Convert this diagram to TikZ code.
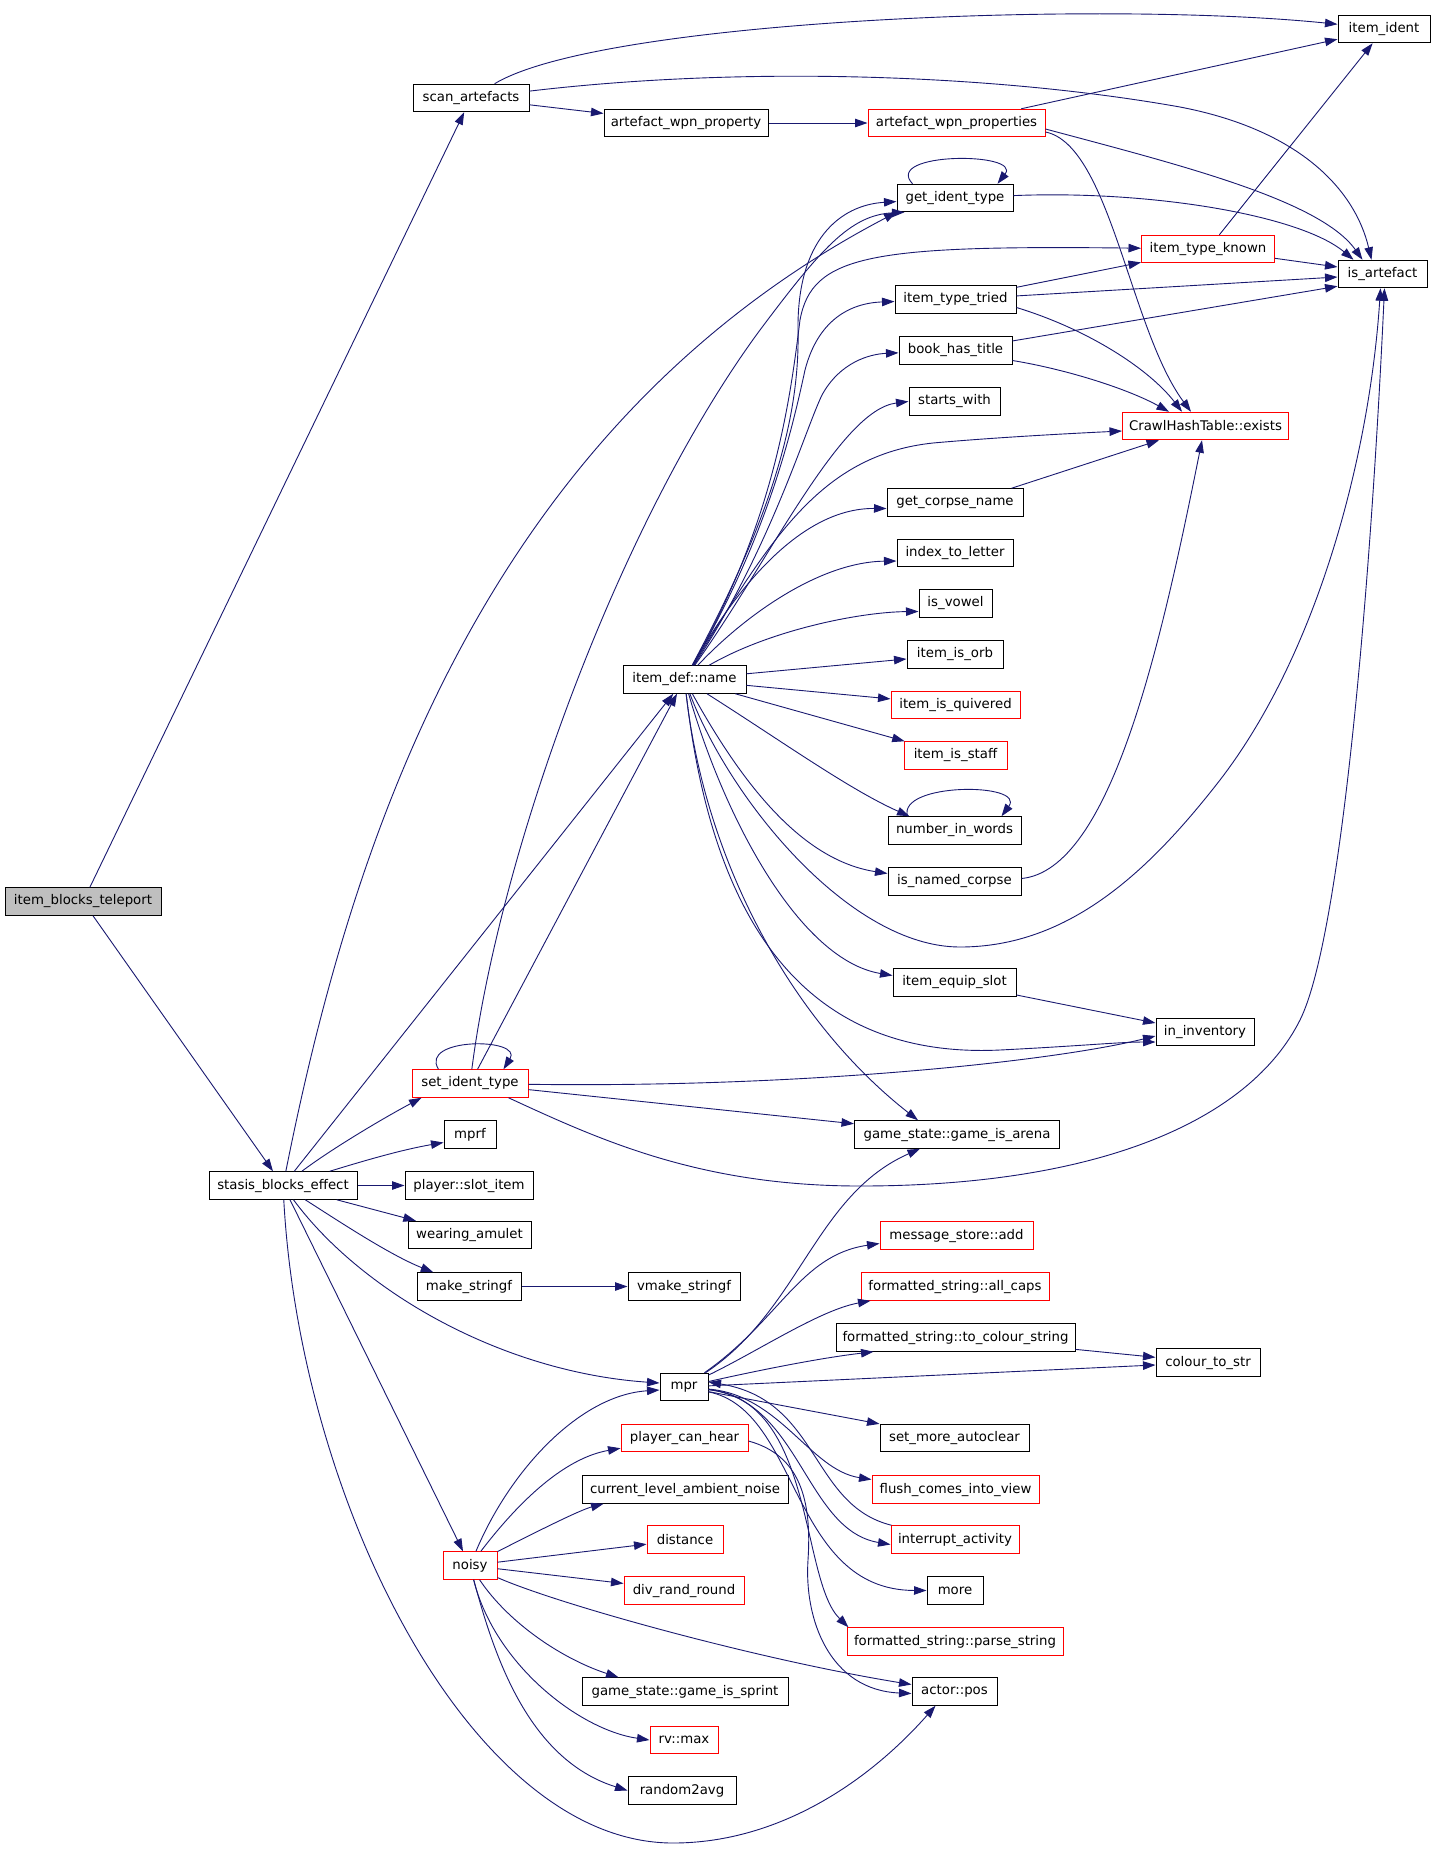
\documentclass[tikz,border=0pt]{standalone}
\usepackage{fontspec}
\setmainfont{DejaVu Sans}
\usetikzlibrary{arrows.meta,calc}
\definecolor{edgec}{HTML}{191970}
\definecolor{grayfill}{HTML}{BFBFBF}
\tikzset{
  box/.style={draw=black, line width=1pt, minimum height=27.5pt, inner sep=0pt,
    font=\fontsize{13.3pt}{16pt}\selectfont, text=black},
  rbox/.style={box, draw=red},
  conn/.style={draw=edgec, line width=0.9pt, -{Triangle[length=12.5pt,width=8.5pt]}},
}
\begin{document}
\begin{tikzpicture}[x=1pt,y=-1pt]
\fill[white] (0,0) rectangle (1432,1856);
\useasboundingbox (0,0) rectangle (1432,1856);
% nodes
\node[box,fill=grayfill,minimum width=156pt] (ibt) at (83,901.5) {item\_blocks\_teleport};
\node[box,minimum width=116pt] (scan) at (471,98) {scan\_artefacts};
\node[box,minimum width=164pt] (awp) at (686,123) {artefact\_wpn\_property};
\node[rbox,minimum width=177pt] (awps) at (956.5,123) {artefact\_wpn\_properties};
\node[box,minimum width=92pt] (iid) at (1384,29) {item\_ident};
\node[box,minimum width=89pt] (isa) at (1382.5,274) {is\_artefact};
\node[box,minimum width=116pt] (git) at (955,198) {get\_ident\_type};
\node[rbox,minimum width=133pt] (itk) at (1208,249) {item\_type\_known};
\node[box,minimum width=121pt] (itt) at (955.5,299.5) {item\_type\_tried};
\node[box,minimum width=113pt] (bht) at (955.5,350.5) {book\_has\_title};
\node[box,minimum width=91pt] (sw) at (954.5,401.5) {starts\_with};
\node[rbox,minimum width=166pt] (ex) at (1205.5,426) {CrawlHashTable::exists};
\node[box,minimum width=136pt] (gcn) at (955,502.5) {get\_corpse\_name};
\node[box,minimum width=116pt] (itl) at (955,553) {index\_to\_letter};
\node[box,minimum width=73pt] (iv) at (955.5,603.5) {is\_vowel};
\node[box,minimum width=96pt] (iio) at (955,654.5) {item\_is\_orb};
\node[rbox,minimum width=129pt] (iiq) at (955.5,705) {item\_is\_quivered};
\node[rbox,minimum width=103pt] (iis) at (955.5,755.5) {item\_is\_staff};
\node[box,minimum width=133pt] (niw) at (954.5,830.5) {number\_in\_words};
\node[box,minimum width=133pt] (inc) at (954.5,881.5) {is\_named\_corpse};
\node[box,minimum width=123pt] (idn) at (684.5,679.5) {item\_def::name};
\node[box,minimum width=123pt] (ies) at (954.5,982.5) {item\_equip\_slot};
\node[box,minimum width=98pt] (inv) at (1205,1032) {in\_inventory};
\node[rbox,minimum width=116pt] (sit) at (470,1083.5) {set\_ident\_type};
\node[box,minimum width=205pt] (gia) at (957,1134.5) {game\_state::game\_is\_arena};
\node[box,minimum width=52pt] (mprf) at (470,1134.5) {mprf};
\node[box,minimum width=148pt] (sbe) at (283,1185.5) {stasis\_blocks\_effect};
\node[box,minimum width=128pt] (psi) at (469,1185.5) {player::slot\_item};
\node[box,minimum width=123pt] (wa) at (469.5,1235) {wearing\_amulet};
\node[box,minimum width=104pt] (ms) at (469,1286.5) {make\_stringf};
\node[box,minimum width=112pt] (vms) at (684,1286.5) {vmake\_stringf};
\node[rbox,minimum width=153pt] (msa) at (956.5,1235.5) {message\_store::add};
\node[rbox,minimum width=188pt] (ac) at (955,1286.5) {formatted\_string::all\_caps};
\node[box,minimum width=239pt] (tcs) at (955.5,1337.5) {formatted\_string::to\_colour\_string};
\node[box,minimum width=104pt] (cts) at (1208,1362.5) {colour\_to\_str};
\node[box,minimum width=48pt] (mpr) at (684,1387) {mpr};
\node[box,minimum width=149pt] (sma) at (954.5,1438) {set\_more\_autoclear};
\node[rbox,minimum width=167pt] (fciv) at (955.5,1489.5) {flush\_comes\_into\_view};
\node[rbox,minimum width=127pt] (pch) at (684.5,1438) {player\_can\_hear};
\node[box,minimum width=206pt] (clan) at (685,1489.5) {current\_level\_ambient\_noise};
\node[rbox,minimum width=76pt] (dist) at (685,1539.5) {distance};
\node[rbox,minimum width=54pt] (noisy) at (470,1565.5) {noisy};
\node[rbox,minimum width=128pt] (ia) at (955,1539.5) {interrupt\_activity};
\node[rbox,minimum width=120pt] (drr) at (684,1590.5) {div\_rand\_round};
\node[box,minimum width=56pt] (more) at (955,1590.5) {more};
\node[rbox,minimum width=216pt] (ps) at (955,1641.5) {formatted\_string::parse\_string};
\node[box,minimum width=206pt] (gis) at (685,1691.5) {game\_state::game\_is\_sprint};
\node[box,minimum width=85pt] (ap) at (954.5,1691.5) {actor::pos};
\node[rbox,minimum width=68pt] (rvm) at (684,1740) {rv::max};
\node[box,minimum width=108pt] (r2a) at (682,1790.5) {random2avg};
% ibt
\draw[conn] (ibt) -- (scan);
\draw[conn] (ibt) -- (sbe);
% scan
\draw[conn] (scan) .. controls (600,20) and (1100,0) .. (iid);
\draw[conn] (scan) .. controls (750,65) and (1000,75) .. (1180,107) .. controls (1300,130) and (1355,190) .. ($(isa.north west)+(34,0)$);
\draw[conn] (scan) -- (awp);
\draw[conn] (awp) -- (awps);
\draw[conn] (awps) -- (iid);
\draw[conn] ($(awps.east)+(0,6)$) .. controls (1180,165) and (1320,200) .. ($(isa.north west)+(25,0)$);
\draw[conn] ($(awps.east)+(0,9)$) .. controls (1110,145) and (1130,330) .. ($(ex.north west)+(69,0)$);
% git
\draw[conn] ($(git.north west)+(16,0)$) .. controls +(-30,-32) and +(25,-32) .. ($(git.north east)+(-16,0)$);
\draw[conn] (git) .. controls (1150,190) and (1300,215) .. ($(isa.north west)+(16,0)$);
% itk, itt, bht
\draw[conn] (itk) -- (iid);
\draw[conn] (itk) -- ($(isa.west)+(0,-7)$);
\draw[conn] (itt) -- (itk);
\draw[conn] (itt) -- ($(isa.west)+(0,3)$);
\draw[conn] ($(itt.east)+(0,8)$) .. controls (1090,330) and (1150,370) .. ($(ex.north west)+(60,0)$);
\draw[conn] (bht) -- ($(isa.south west)+(0,-2)$);
\draw[conn] ($(bht.east)+(0,10)$) .. controls (1070,370) and (1130,390) .. ($(ex.north west)+(47,0)$);
\draw[conn] ($(gcn.north east)+(-12,0)$) -- ($(ex.south west)+(37,0)$);
\draw[conn] ($(inc.east)+(0,-3)$) .. controls (1110,870) and (1160,650) .. ($(ex.south west)+(80,0)$);
% item_def::name fan
\draw[conn] (idn) .. controls (770,520) and (800,420) .. (798,330) .. controls (797,240) and (840,205) .. (git);
\draw[conn] (idn) .. controls (775,520) and (790,400) .. (800,320) .. controls (812,255) and (870,245) .. (itk);
\draw[conn] (idn) .. controls (765,540) and (790,440) .. (805,370) .. controls (818,320) and (850,303) .. (itt);
\draw[conn] (idn) .. controls (770,550) and (805,430) .. (822,395) .. controls (840,362) and (870,354) .. (bht);
\draw[conn] (idn) .. controls (770,560) and (840,410) .. (sw.west);
\draw[conn] (idn) .. controls (770,540) and (820,455) .. (933,443) .. controls (1000,437) and (1080,433) .. ($(ex.west)+(0,5)$);
\draw[conn] (idn) .. controls (735,590) and (800,508) .. ($(gcn.west)+(0,6)$);
\draw[conn] (idn) .. controls (745,615) and (820,562) .. ($(itl.west)+(0,8)$);
\draw[conn] (idn) .. controls (770,630) and (860,612) .. ($(iv.west)+(0,8)$);
\draw[conn] (idn) -- (iio);
\draw[conn] (idn) -- (iiq);
\draw[conn] (idn) -- (iis);
\draw[conn] (idn) .. controls (780,740) and (850,790) .. ($(niw.north west)+(22,0)$);
\draw[conn] ($(niw.north west)+(20,0)$) .. controls +(-10,-34) and +(25,-34) .. ($(niw.north east)+(-20,0)$);
\draw[conn] (idn) .. controls (740,780) and (800,860) .. ($(inc.west)+(0,-8)$);
\draw[conn] (idn) .. controls (730,800) and (850,947) .. (960,947) .. controls (1070,947) and (1150,870) .. (1220,780) .. controls (1320,650) and (1370,450) .. ($(isa.south)+(-2,0)$);
\draw[conn] (idn) .. controls (725,820) and (800,960) .. ($(ies.west)+(0,-7)$);
\draw[conn] (idn) .. controls (710,900) and (790,1060) .. (1000,1050) .. controls (1080,1046) and (1120,1042) .. ($(inv.west)+(0,10)$);
\draw[conn] (idn) .. controls (705,860) and (790,1020) .. ($(gia.north west)+(64,0)$);
\draw[conn] (ies) -- ($(inv.west)+(0,-9)$);
% stasis_blocks_effect
\draw[conn] (sbe) .. controls (350,850) and (480,430) .. (git.south west);
\draw[conn] (sbe) -- (idn);
\draw[conn] (sbe) .. controls (330,1150) and (380,1120) .. ($(sit.south west)+(10,0)$);
\draw[conn] (sbe) .. controls (360,1162) and (400,1150) .. ($(mprf.west)+(0,8)$);
\draw[conn] (sbe) -- (psi);
\draw[conn] (sbe) -- (wa);
\draw[conn] (sbe) .. controls (340,1222) and (390,1255) .. (ms);
\draw[conn] (sbe) .. controls (360,1290) and (500,1372) .. ($(mpr.west)+(0,-4)$);
\draw[conn] (sbe) -- (noisy);
\draw[conn] (sbe) .. controls (300,1500) and (470,1843) .. (673,1843) .. controls (780,1843) and (870,1780) .. ($(ap.south west)+(24,0)$);
% set_ident_type
\draw[conn] ($(sit.north west)+(27,0)$) .. controls +(-20,-32) and +(20,-32) .. ($(sit.north east)+(-25,0)$);
\draw[conn] (sit) .. controls (500,850) and (620,520) .. (760,330) .. controls (820,250) and (850,215) .. ($(git.south west)+(8,0)$);
\draw[conn] (sit) -- (idn);
\draw[conn] (sit) .. controls (800,1088) and (1050,1062) .. ($(inv.west)+(0,4)$);
\draw[conn] (sit) -- (gia);
\draw[conn] ($(sit.south east)+(-20,0)$) .. controls (600,1140) and (700,1186) .. (860,1186) .. controls (1100,1186) and (1250,1120) .. (1300,1020) .. controls (1340,940) and (1370,600) .. ($(isa.south)+(2,0)$);
% make_stringf
\draw[conn] (ms) -- (vms);
% mpr
\draw[conn] (mpr) .. controls (800,1310) and (815,1195) .. ($(gia.south west)+(66,0)$);
\draw[conn] (mpr) .. controls (780,1320) and (800,1255) .. ($(msa.west)+(0,8)$);
\draw[conn] (mpr) .. controls (760,1350) and (820,1310) .. ($(ac.south west)+(10,0)$);
\draw[conn] (mpr) .. controls (760,1370) and (820,1358) .. ($(tcs.south west)+(38,0)$);
\draw[conn] (mpr) -- (cts);
\draw[conn] (tcs) -- (cts);
\draw[conn] ($(ia.north west)+(1,0)$) .. controls (810,1505) and (820,1400) .. ($(mpr.east)+(0,-5)$);
\draw[conn] (mpr) -- (sma);
\draw[conn] (mpr) .. controls (780,1395) and (810,1470) .. ($(fciv.west)+(0,-10)$);
\draw[conn] (mpr) .. controls (800,1400) and (805,1530) .. ($(ia.west)+(0,5)$);
\draw[conn] (mpr) .. controls (800,1410) and (790,1590) .. (more.west);
\draw[conn] (mpr) .. controls (815,1400) and (800,1580) .. ($(ps.north west)+(2,0)$);
% player_can_hear
\draw[conn] ($(pch.east)+(0,3)$) .. controls (800,1455) and (812,1500) .. (808,1560) .. controls (804,1620) and (830,1690) .. ($(ap.west)+(0,2)$);
% noisy
\draw[conn] (noisy) .. controls (510,1470) and (580,1395) .. ($(mpr.west)+(0,3)$);
\draw[conn] (noisy) .. controls (520,1500) and (565,1458) .. ($(pch.south west)+(0,-4)$);
\draw[conn] (noisy) .. controls (540,1530) and (580,1510) .. ($(clan.south west)+(22,0)$);
\draw[conn] (noisy) -- (dist);
\draw[conn] (noisy) -- (drr);
\draw[conn] (noisy) .. controls (560,1605) and (760,1660) .. ($(ap.west)+(0,-7)$);
\draw[conn] (noisy) .. controls (510,1625) and (565,1660) .. ($(gis.north west)+(37,0)$);
\draw[conn] (noisy) .. controls (495,1665) and (580,1730) .. (rvm.west);
\draw[conn] (noisy) .. controls (495,1660) and (530,1760) .. (r2a.west);
\end{tikzpicture}
\end{document}
